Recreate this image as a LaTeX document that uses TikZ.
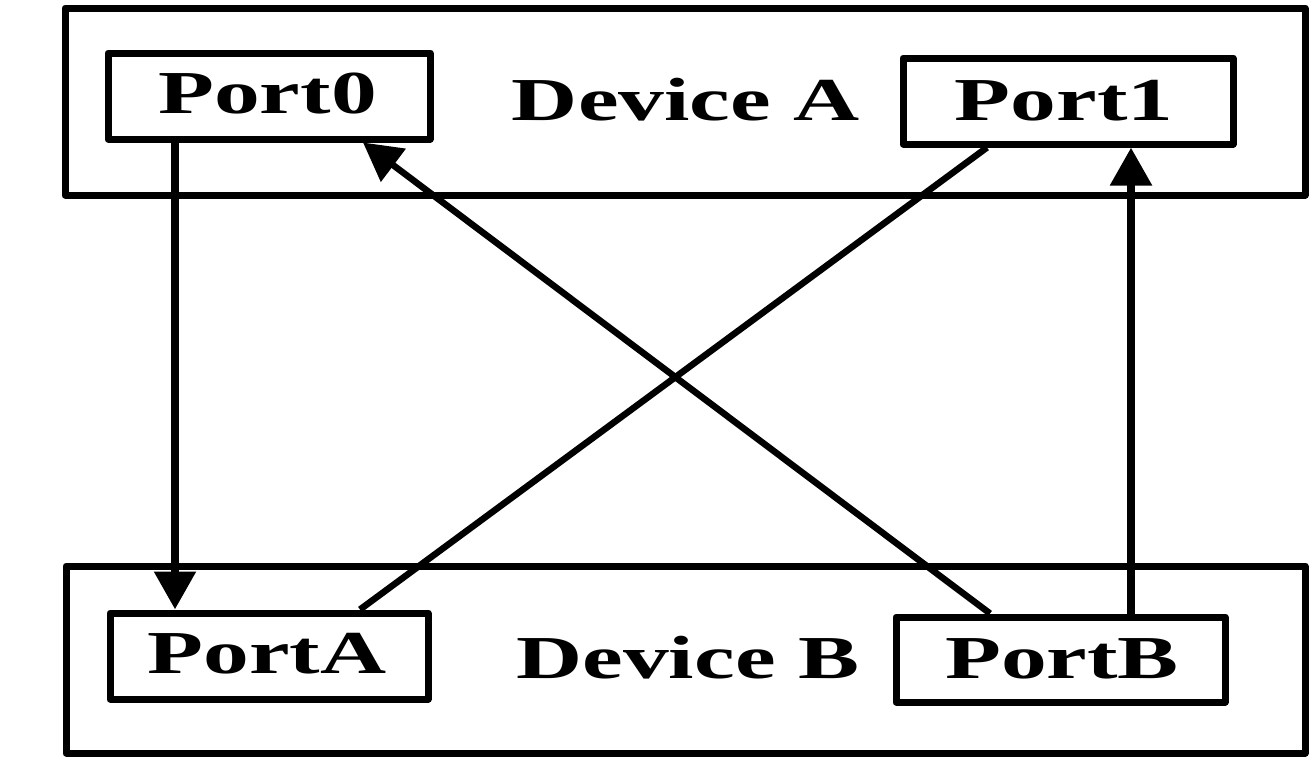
\documentclass[tikz,border=0pt]{standalone}
\usepackage{fontspec}
\setmainfont{Liberation Serif}
\newfontfamily\widefont[FakeStretch=1.5]{Liberation Serif}
\usetikzlibrary{arrows.meta}
\begin{document}
\begin{tikzpicture}[x=1pt,y=-1pt,
  box/.style={draw,line width=7pt,line join=round,inner sep=0pt,minimum height=86pt},
  lbl/.style={anchor=base,inner sep=0pt,font=\widefont\bfseries\fontsize{61}{61}\selectfont},
  conn/.style={line width=6.5pt},
  vconn/.style={line width=8.5pt},
  tip/.style={-{Triangle[width=40pt,length=38pt]}}]
\useasboundingbox (0,0) rectangle (1313,761);
% devices
\node[box,minimum width=1240pt,minimum height=187pt] (da) at (685,101.5) {};
\node[box,minimum width=1239pt,minimum height=187pt] (db) at (685.5,659.5) {};
% ports
\node[box,minimum width=322pt] (p0) at (269,96) {};
\node[box,minimum width=330pt] (p1) at (1068,101) {};
\node[box,minimum width=318pt] (pa) at (269,656) {};
\node[box,minimum width=329pt,minimum height=85pt] (pb) at (1060.5,659.5) {};
% labels
\node[lbl] (t0) at (267.5,113) {Port0};
\node[lbl] (t1) at (1064,120) {Port1};
\node[lbl] (ta) at (267,673) {PortA};
\node[lbl] (tb) at (1062,678) {PortB};
\node[lbl] (tda) at (686,120) {Device A};
\node[lbl] (tdb) at (688,678) {Device B};
% connector columns
\coordinate (x1) at (175,0);
\coordinate (x2) at (990,0);
\coordinate (x3) at (363,0);
\coordinate (x4) at (987,0);
\coordinate (x5) at (360,0);
\coordinate (x6) at (1131,0);
% connectors
\draw[vconn,tip] (p0.south -| x1) -- (pa.north -| x1);
\draw[conn,tip] (pb.north -| x2) -- (p0.south -| x3);
\draw[conn] (p1.south -| x4) -- (pa.north -| x5);
\draw[vconn,tip] (pb.north -| x6) -- (p1.south -| x6);
\end{tikzpicture}
\end{document}
